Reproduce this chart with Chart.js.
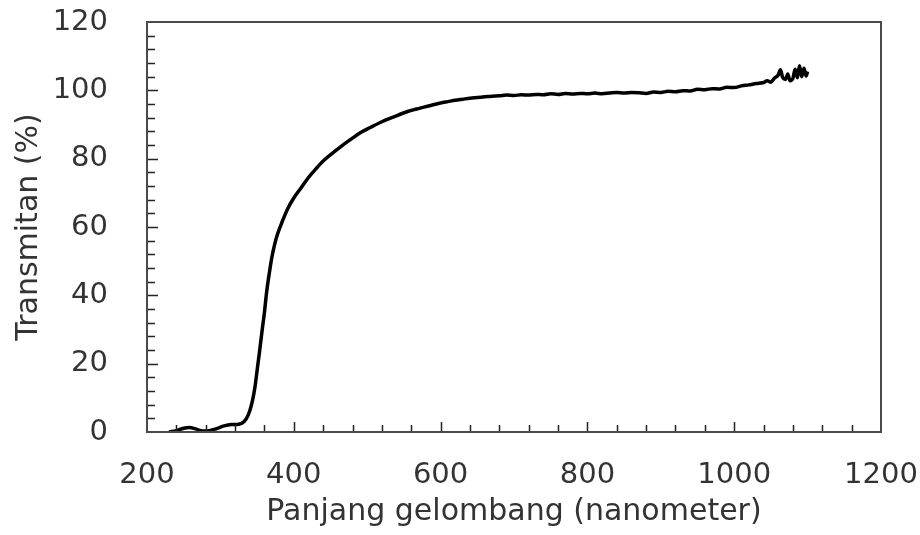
<!DOCTYPE html>
<html>
<head>
<meta charset="utf-8">
<script src="https://cdn.jsdelivr.net/npm/chart.js@4"></script>
<style>
  html, body { margin: 0; padding: 0; background: #fff; }
  #wrap { width: 920px; height: 535px; }
</style>
</head>
<body>
<div id="wrap"><canvas id="myChart" width="920" height="535"></canvas></div>
<script>
// wavelength (nm) and transmittance (%)
const wavelength = [
  230, 240, 250, 258, 266, 276, 285, 295, 305, 315, 325, 332, 338, 343, 347,
  350, 353, 357, 360, 363, 367, 370, 374, 378, 385, 392, 400, 410, 420, 430,
  440, 452, 465, 478, 490, 505, 520, 537, 555, 572, 590, 600, 610, 620, 630,
  640, 650, 660, 670, 680, 690, 700, 710, 720, 730, 740, 750, 760, 770, 780,
  790, 800, 810, 820, 830, 840, 850, 860, 870, 880, 890, 900, 910, 920, 930,
  940, 950, 960, 970, 980, 990, 1000, 1010, 1020, 1030, 1040, 1045, 1050, 1055,
  1060, 1063, 1066, 1070, 1073, 1076, 1080, 1083, 1086, 1089, 1092, 1095, 1098, 1100
];
const transmittance = [
  0, 0.4, 1.1, 1.3, 0.9, 0.3, 0.4, 1.0, 1.8, 2.2, 2.3, 3.0, 5.0, 8.5, 13,
  18, 23, 30, 35, 41, 47, 51, 55, 58, 62, 65.5, 68.5, 71.5, 74.5, 77,
  79.3, 81.5, 83.7, 85.7, 87.5, 89.2, 90.8, 92.3, 93.8, 94.8, 95.8, 96.3, 96.7, 97.1, 97.4,
  97.7, 97.9, 98.1, 98.3, 98.4, 98.6, 98.5, 98.7, 98.6, 98.8, 98.7, 99.0, 98.8, 99.1, 98.9,
  99.1, 99.0, 99.2, 99.0, 99.2, 99.4, 99.2, 99.4, 99.3, 99.1, 99.5, 99.4, 99.7, 99.6, 99.9,
  99.8, 100.3, 100.2, 100.5, 100.4, 100.9, 100.8, 101.3, 101.6, 102.0, 102.3, 102.8, 102.4, 103.6,
  104.5, 106, 103.8, 103.2, 104.8, 102.8, 103.5, 106.2, 103.7, 107.2, 104.0, 106.5, 104.2, 105.5
];

const xRange = [200, 1200];
const yRange = [0, 120];
const xMajorStep = 200, xMinorStep = 40;
const yMajorStep = 20, yMinorStep = 4;

const textColor = '#333';
const fontFamily = '"DejaVu Sans", Verdana, sans-serif';

// frame + inward tick marks
const frameTicks = {
  id: 'frameTicks',
  afterDatasetsDraw(chart) {
    const ctx = chart.ctx;
    const a = chart.chartArea;
    const xs = chart.scales.x, ys = chart.scales.y;
    ctx.save();
    ctx.strokeStyle = '#222';
    ctx.lineWidth = 1.5;
    ctx.beginPath();
    for (let v = xRange[0] + xMinorStep; v < xRange[1]; v += xMinorStep) {
      const px = Math.round(xs.getPixelForValue(v)) + 0.5;
      const len = v % xMajorStep === 0 ? 10 : 7;
      ctx.moveTo(px, a.bottom);
      ctx.lineTo(px, a.bottom - len);
    }
    for (let v = yRange[0] + yMinorStep; v < yRange[1]; v += yMinorStep) {
      const py = Math.round(ys.getPixelForValue(v)) + 0.5;
      const len = v % yMajorStep === 0 ? 11 : 8;
      ctx.moveTo(a.left, py);
      ctx.lineTo(a.left + len, py);
    }
    ctx.stroke();
    ctx.strokeStyle = '#4a4a4a';
    ctx.lineWidth = 2;
    ctx.strokeRect(a.left, a.top, a.right - a.left, a.bottom - a.top);
    ctx.restore();
  }
};

const ctx = document.getElementById('myChart').getContext('2d');
const myChart = new Chart(ctx, {
  type: 'line',
  data: {
    datasets: [{
      data: wavelength.map((w, i) => ({ x: w, y: transmittance[i] })),
      borderColor: '#000',
      borderWidth: 3.5,
      pointRadius: 0,
      cubicInterpolationMode: 'monotone',
      fill: false
    }]
  },
  options: {
    responsive: false,
    animation: false,
    layout: { padding: { top: 22, right: 39, bottom: 0, left: 0 } },
    plugins: { legend: { display: false }, tooltip: { enabled: false } },
    scales: {
      x: {
        type: 'linear',
        min: xRange[0], max: xRange[1],
        grid: { display: false, drawTicks: false },
        border: { display: false },
        ticks: {
          stepSize: xMajorStep, padding: 26, color: textColor,
          font: { family: fontFamily, size: 29 },
          callback: v => String(v)
        },
        title: {
          display: true, text: 'Panjang gelombang (nanometer)', color: textColor,
          font: { family: fontFamily, size: 30 }, padding: { top: 0, bottom: 5 }
        },
        afterFit(s) { s.height = 103; s.paddingLeft = 0; s.paddingRight = 0; }
      },
      y: {
        min: yRange[0], max: yRange[1],
        grid: { display: false, drawTicks: false },
        border: { display: false },
        ticks: { stepSize: yMajorStep, padding: 39, color: textColor, font: { family: fontFamily, size: 29 } },
        title: {
          display: true, text: 'Transmitan (%)', color: textColor,
          font: { family: fontFamily, size: 30 }, padding: { top: 11, bottom: 0 }
        },
        afterFit(s) { s.width = 147; s.paddingTop = 0; s.paddingBottom = 0; }
      }
    }
  },
  plugins: [frameTicks]
});
</script>
</body>
</html>
